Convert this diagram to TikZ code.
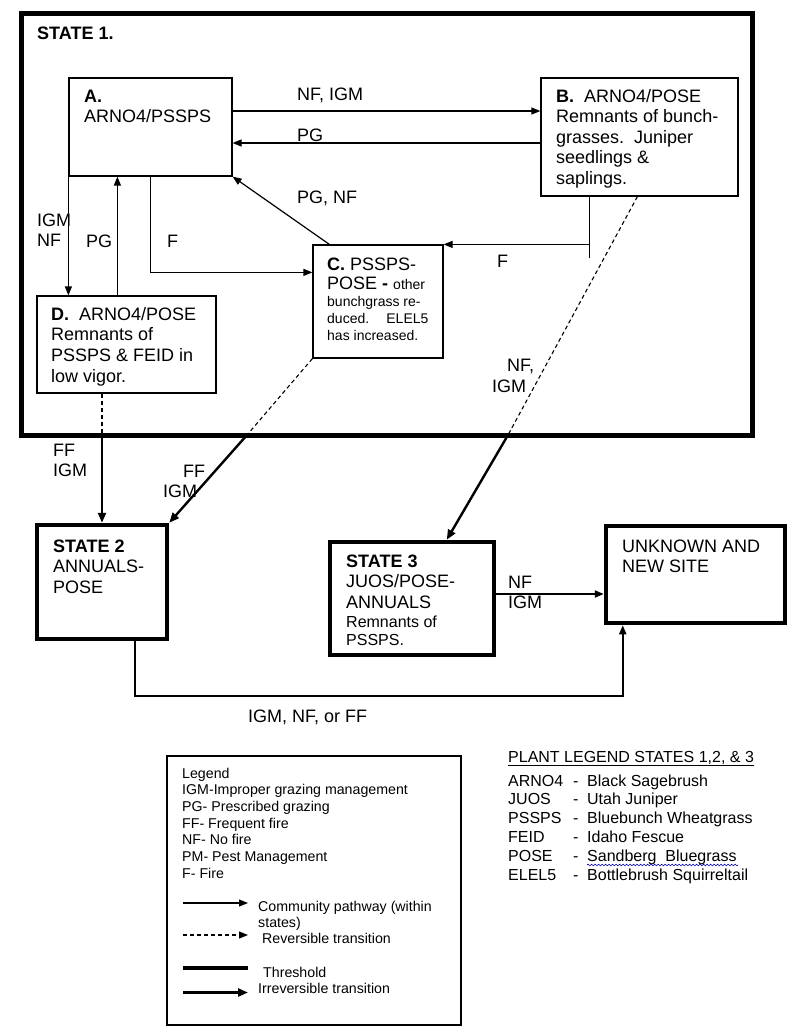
\documentclass[tikz,border=0pt]{standalone}
\usepackage{fontspec}
\setmainfont{Liberation Sans}
\usetikzlibrary{arrows.meta,decorations.pathmorphing}
\newcommand\mylines[1]{\begin{tabular}[t]{@{}l@{}}#1\end{tabular}}
\newcommand\smf{\fontsize{14}{17}\selectfont}
\newcommand\mdf{\fontsize{16}{18.8}\selectfont}
\begin{document}
\begin{tikzpicture}[x=1pt,y=-1pt,
  box/.style={draw,line width=1.2pt,inner sep=0pt},
  statebox/.style={draw,line width=4.5pt,inner sep=0pt},
  txt/.style={anchor=base west,inner sep=0pt,font=\fontsize{18}{20.7}\selectfont},
  lgtxt/.style={anchor=base west,inner sep=0pt,font=\fontsize{14.2}{16.7}\selectfont},
  cpath/.style={line width=1.2pt,-{Triangle[length=9pt,width=7pt]}},
  revline/.style={line width=1.1pt,dash pattern=on 4pt off 3pt},
  irrev/.style={line width=2.4pt,-{Triangle[length=10pt,width=8pt]}},
  irrevb/.style={line width=2pt,-{Triangle[length=9pt,width=7pt]}}
]
\useasboundingbox (0,0) rectangle (800,1034);

% ---- State 1 frame
\node[statebox,line width=5pt,minimum width=731pt,minimum height=422pt] (s1) at (386.5,224) {};
\node[txt,font=\fontsize{18}{20.7}\selectfont\bfseries] (s1t) at (37,39) {STATE 1.};

% ---- boxes
\node[box,minimum width=163pt,minimum height=98pt] (A) at (150.5,127) {};
\node[txt] (At) at (84,102) {\mylines{\textbf{A.}\\ARNO4/PSSPS}};

\node[box,minimum width=197pt,minimum height=118pt] (B) at (639.5,137) {};
\node[txt,font=\fontsize{18}{20.5}\selectfont] (Bt) at (556,102) {\mylines{\textbf{B.}\ \ ARNO4/POSE\\Remnants of bunch-\\grasses.\ \ Juniper\\seedlings \&\\saplings.}};

\node[box,minimum width=130pt,minimum height=113pt] (C) at (378,301.5) {};
\node[txt,font=\fontsize{18}{17}\selectfont] (Ct) at (327,270) {\mylines{\textbf{C.} PSSPS-\\[2pt]POSE \textbf{-} {\smf other}\\{\smf bunchgrass re-}\\{\smf duced.\hspace{12pt} ELEL5}\\{\smf has increased.}}};

\node[box,minimum width=179pt,minimum height=97pt] (D) at (126.5,344.5) {};
\node[txt] (Dt) at (51,320) {\mylines{\textbf{D.}\ \ ARNO4/POSE\\Remnants of\\PSSPS \& FEID in\\low vigor.}};

% ---- other states
\node[statebox,minimum width=130pt,minimum height=114pt] (S2) at (102,582) {};
\node[txt] (S2t) at (53,552) {\mylines{\textbf{STATE 2}\\ANNUALS-\\POSE}};

\node[statebox,minimum width=164pt,minimum height=113pt] (S3) at (412,598.5) {};
\node[txt] (S3t) at (346,567) {\mylines{\textbf{STATE 3}\\JUOS/POSE-\\ANNUALS\\[-2pt]{\mdf Remnants of}\\[-2.7pt]{\mdf PSSPS.}}};

\node[statebox,minimum width=179pt,minimum height=97pt] (U) at (695.5,574.5) {};
\node[txt,font=\fontsize{18}{20}\selectfont] (Ut) at (622,552) {\mylines{UNKNOWN AND\\NEW SITE}};

% ---- community pathways inside state 1
\coordinate (ab1) at ([yshift=16pt]A.east);
\coordinate (ab2) at ([yshift=-16pt]A.east);
\draw[cpath] (ab1) -- (ab1 -| B.west);
\draw[cpath] (ab2 -| B.west) -- (ab2);
\node[txt] (l1) at (297,100) {NF, IGM};
\node[txt] (l2) at (297,141) {PG};

\draw[cpath] (A.south west) -- (A.south west |- D.north);
\coordinate (pg) at ([xshift=49pt]A.south west);
\draw[cpath] (pg |- D.north) -- (pg);
\node[txt] (l3) at (37,226) {\mylines{IGM\\NF}};
\node[txt] (l4) at (86,247) {PG};

\coordinate (cf) at ([yshift=-28pt]C.north west);
\draw[cpath] (A.south) |- (cf);
\node[txt] (l5) at (167,247) {F};

\coordinate (cn) at ([xshift=17pt]C.north west);
\draw[cpath] (cn) -- (A.south east);
\node[txt] (l6) at (297,203) {PG, NF};

\coordinate (bf) at ([xshift=49pt]B.south west);
\coordinate (bf2) at ([yshift=-61pt]bf);
\draw[line width=1.2pt] (bf) -- (bf2);
\draw[cpath] (bf |- C.north east) -- (C.north east);
\node[txt] (l7) at (497,267) {F};

% ---- transitions
\coordinate (bd) at ([xshift=97pt]B.south west);
\coordinate (x3) at (508,435);
\coordinate (s3t) at ([xshift=119pt]S3.north west);
\draw[revline] (bd) -- (x3);
\draw[irrev] (x3) -- (s3t);
\node[txt] (l8) at (507,371) {NF,};
\node[txt] (l9) at (492,392) {IGM};

\coordinate (x2) at (102,435);
\draw[revline] (S2.north |- D.south) -- (x2);
\draw[irrev] (x2) -- (S2.north);
\node[txt] (l10) at (53,456) {\mylines{FF\\IGM}};

\coordinate (xc) at (247,435);
\draw[revline] (C.south west) -- (xc);
\draw[irrev] (xc) -- (S2.north east);
\node[txt] (l11) at (183,477) {FF};
\node[txt] (l12) at (163,497) {IGM};

\coordinate (su) at ([yshift=4.5pt]S3.east);
\draw[irrevb] (su) -- (su -| U.west);
\node[txt] (l13) at (508,588) {\mylines{NF\\IGM}};

\coordinate (s2b) at ([xshift=100pt]S2.south west);
\coordinate (ub) at ([xshift=19pt]U.south west);
\coordinate (yb) at (0,696);
\draw[irrevb] (s2b) |- (yb -| ub) -- (ub);
\node[txt] (l14) at (248,722) {IGM, NF, or FF};

% ---- legend box
\node[box,minimum width=294pt,minimum height=269pt] (L) at (314,890.5) {};
\node[lgtxt] (Lt) at (182,778) {\mylines{Legend\\IGM-Improper grazing management\\PG- Prescribed grazing\\FF- Frequent fire\\NF- No fire\\PM- Pest Management\\F- Fire}};
\coordinate (k1a) at (183,903); \coordinate (k1b) at (248,903);
\draw[cpath] (k1a) -- (k1b);
\node[lgtxt,font=\fontsize{14.2}{16}\selectfont] (k1t) at (258,911) {\mylines{Community pathway (within\\states)}};
\coordinate (k2a) at (183,935); \coordinate (k2b) at (248,935);
\draw[revline,-{Triangle[length=9pt,width=7pt]}] (k2a) -- (k2b);
\node[lgtxt] (k2t) at (262,943) {Reversible transition};
\coordinate (k3a) at (183,968); \coordinate (k3b) at (248,968);
\draw[line width=4pt] (k3a) -- (k3b);
\node[lgtxt] (k3t) at (263,977) {Threshold};
\coordinate (k4a) at (183,992.5); \coordinate (k4b) at (248,992.5);
\draw[line width=3.2pt,-{Triangle[length=10pt,width=8pt]}] (k4a) -- (k4b);
\node[lgtxt] (k4t) at (258,993) {Irreversible transition};

% ---- plant legend
\node[anchor=base west,inner sep=0pt,font=\mdf] (P) at (508,762) {\underline{PLANT LEGEND STATES 1,2, \& 3}};
\node[anchor=base west,inner sep=0pt,font=\mdf] (Pt) at (508,786) {\mylines{%
\makebox[65pt][l]{ARNO4}\makebox[14pt][l]{-}Black Sagebrush\\
\makebox[65pt][l]{JUOS}\makebox[14pt][l]{-}Utah Juniper\\
\makebox[65pt][l]{PSSPS}\makebox[14pt][l]{-}Bluebunch Wheatgrass\\
\makebox[65pt][l]{FEID}\makebox[14pt][l]{-}Idaho Fescue\\
\makebox[65pt][l]{POSE}\makebox[14pt][l]{-}Sandberg\ \ Bluegrass\\
\makebox[65pt][l]{ELEL5}\makebox[14pt][l]{-}Bottlebrush Squirreltail}};
\coordinate (sq1) at (587,865); \coordinate (sq2) at (738,865);
\draw[blue!70!black,line width=0.6pt,decorate,decoration={snake,amplitude=0.8pt,segment length=3.5pt}] (sq1) -- (sq2);
\end{tikzpicture}
\end{document}
